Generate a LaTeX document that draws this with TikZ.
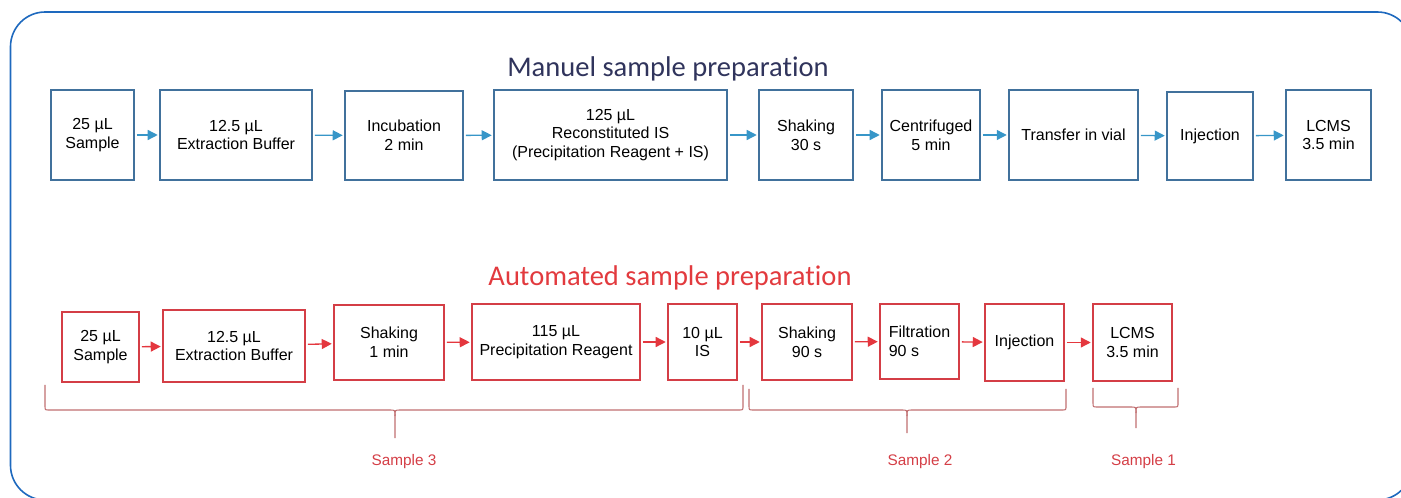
\documentclass[tikz,border=0pt]{standalone}
\usepackage{fontspec}
\setmainfont{Liberation Sans}
\newfontfamily\titlefont[Ligatures=NoCommon]{Carlito}
\usetikzlibrary{arrows.meta}
\definecolor{frameblue}{RGB}{30,105,190}
\definecolor{mblue}{RGB}{65,113,156}
\definecolor{marrowc}{RGB}{55,150,200}
\definecolor{mtitle}{RGB}{48,52,92}
\definecolor{ared}{RGB}{212,62,70}
\definecolor{aarrowc}{RGB}{228,55,62}
\definecolor{atitle}{RGB}{226,58,62}
\definecolor{bracec}{RGB}{192,110,112}
\newcommand{\pxu}{0.75pt}
% sample brace: x left, x right, x tip, y ends, y line, y tip
\newcommand{\samplebrace}[6]{%
  \draw[sbrace] (#1,#4) -- (#1,#5-4) .. controls (#1,#5) .. (#1+4,#5) -- (#3-5,#5)
    .. controls (#3,#5) .. (#3,#5+6) -- (#3,#6);
  \draw[sbrace] (#3,#5+6) .. controls (#3,#5) .. (#3+5,#5) -- (#2-4,#5)
    .. controls (#2,#5) .. (#2,#5-4) -- (#2,#4);}
\tikzset{
  sz/.style 2 args={minimum width=#1*\pxu, minimum height=#2*\pxu},
  mbox/.style={draw=mblue, line width=1.4pt, align=center, inner sep=1pt,
    font=\fontsize{12}{14}\selectfont},
  abox/.style={mbox, draw=ared},
  marrow/.style={draw=marrowc, line width=1pt, shorten <=1.5pt, shorten >=1pt,
    -{Triangle[length=7.5pt,width=7.5pt]}},
  aarrow/.style={marrow, draw=aarrowc},
  sbrace/.style={draw=bracec, line width=0.8pt},
  slabel/.style={text=ared, anchor=base, font=\fontsize{11.5}{13}\selectfont}
}
\begin{document}
\begin{tikzpicture}[x=0.75pt,y=-0.75pt]
\useasboundingbox (0,0) rectangle (1401,498);
\clip (0,0) rectangle (1401,498);
\draw[frameblue, line width=1.2pt, rounded corners=26pt] (10.5,12) rectangle (1412,500);

% manual
\node[text=mtitle, anchor=base, font=\titlefont\fontsize{21.4}{24}\selectfont] (mtitle) at (668,77) {Manuel sample preparation};
\node[mbox, sz={83}{90}] (m1) at (92.5,135) {25 µL\\Sample};
\node[mbox, sz={152}{90}] (m2) at (236,135) {12.5 µL\\Extraction Buffer};
\node[mbox, sz={118}{89}] (m3) at (404,135.5) {Incubation\\2 min};
\node[mbox, sz={233}{90}] (m4) at (610.5,135) {125 µL\\Reconstituted IS\\(Precipitation Reagent + IS)};
\node[mbox, sz={94}{90}] (m5) at (806,135) {Shaking\\30 s};
\node[mbox, sz={98}{90}] (m6) at (931,135) {Centrifuged\\5 min};
\node[mbox, sz={129}{90}] (m7) at (1073.5,135) {Transfer in vial};
\node[mbox, sz={86}{88}] (m8) at (1210,136) {Injection};
\node[mbox, sz={85}{90}] (m9) at (1328.5,135) {LCMS\\3.5 min};
\foreach \a/\b in {m1/m2,m2/m3,m3/m4,m4/m5,m5/m6,m6/m7,m7/m8,m8/m9}
  \draw[marrow] (\a) -- (\b);

% automated
\node[text=atitle, anchor=base, font=\titlefont\fontsize{21.4}{24}\selectfont] (atitle) at (670,286) {Automated sample preparation};
\node[abox, sz={77}{70}] (a1) at (100.5,347) {25 µL\\Sample};
\node[abox, sz={142}{72}] (a2) at (234,346) {12.5 µL\\Extraction Buffer};
\node[abox, sz={110}{75}] (a3) at (389,342.5) {Shaking\\1 min};
\node[abox, sz={168}{76}] (a4) at (556,342) {115 µL\\Precipitation Reagent};
\node[abox, sz={69}{76}] (a5) at (702.5,342) {10 µL\\IS};
\node[abox, sz={90}{76}] (a6) at (807,342) {Shaking\\90 s};
\node[abox, sz={79}{75}, align=left] (a7) at (919.5,341.5) {Filtration\\90 s};
\node[abox, sz={79}{77}] (a8) at (1024.5,342.5) {Injection};
\node[abox, sz={79}{77}] (a9) at (1132.5,342.5) {LCMS\\3.5 min};
\foreach \a/\b in {a1/a2,a2/a3,a3/a4,a4/a5,a5/a6,a6/a7,a7/a8,a8/a9}
  \draw[aarrow] (\a) -- (\b);

% samples
\samplebrace{45}{743}{395}{385}{410}{438}
\samplebrace{749}{1066}{907}{389}{410}{433}
\samplebrace{1093}{1178}{1136}{388}{407}{428}
\node[slabel] (s3) at (404,465) {Sample 3};
\node[slabel] (s2) at (920,465) {Sample 2};
\node[slabel] (s1) at (1143.5,465) {Sample 1};
\end{tikzpicture}
\end{document}
